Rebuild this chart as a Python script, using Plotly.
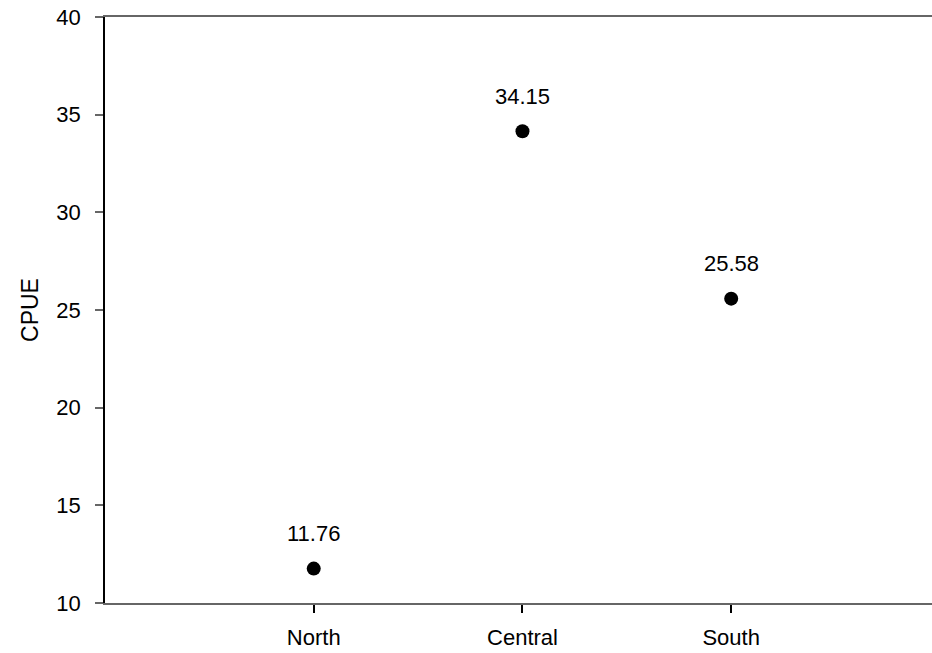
import plotly.graph_objects as go

categories = ["North", "Central", "South"]
cpue = [11.76, 34.15, 25.58]
value_labels = ["11.76", "34.15", "25.58"]
y_ticks = [10, 15, 20, 25, 30, 35, 40]

xpos = list(range(len(categories)))
FONT = "Liberation Sans, Arial, sans-serif"

fig = go.Figure()
fig.add_trace(go.Scatter(
    x=xpos, y=cpue, mode="markers",
    marker=dict(color="black", size=14, line=dict(width=0)),
    showlegend=False, hoverinfo="skip",
))

for xi, yi, lab in zip(xpos, cpue, value_labels):
    fig.add_annotation(x=xi, y=yi, text=lab, showarrow=False, yshift=35,
                       font=dict(family=FONT, size=22, color="black"))

fig.update_layout(
    width=932, height=653,
    margin=dict(l=105, r=0, t=17, b=50),
    paper_bgcolor="white", plot_bgcolor="white",
    font=dict(family=FONT, size=22, color="black"),
    xaxis=dict(
        range=[-1, 2.962], tickvals=xpos, ticktext=categories,
        showgrid=False, zeroline=False,
        showline=True, linecolor="#666666", linewidth=2, mirror=True,
        ticks="outside", ticklen=8, tickwidth=1.5, tickcolor="black",
        ticklabelstandoff=6,
        tickfont=dict(family=FONT, size=22, color="black"),
    ),
    yaxis=dict(
        range=[10, 40], tickvals=y_ticks,
        showgrid=False, zeroline=False,
        showline=True, linecolor="black", linewidth=1.5,
        ticks="outside", ticklen=8, tickwidth=2, tickcolor="#666666",
        ticklabelstandoff=10,
        tickfont=dict(family=FONT, size=22, color="black"),
        title=dict(text="CPUE", font=dict(family=FONT, size=23, color="black"), standoff=11),
    ),
)

fig.write_html("out.html", config={"displayModeBar": False},
               post_script="document.body.style.margin='0px';")
